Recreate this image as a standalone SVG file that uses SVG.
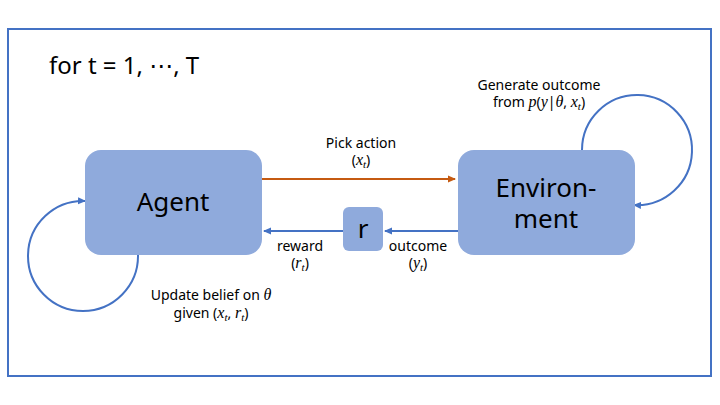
<svg xmlns="http://www.w3.org/2000/svg" width="720" height="405" viewBox="0 0 720 405">
<style>
.t{font-family:"Noto Sans","DejaVu Sans",sans-serif;fill:#000}
.m{font-family:"Liberation Serif","DejaVu Serif",serif;font-style:italic;font-size:16px}
.s{font-size:11px}
.box{fill:#8FAADC}
.b{stroke:#4472C4;stroke-width:2;fill:none}
.o{stroke:#C55A11;stroke-width:2;fill:none}
</style>
<defs>
<marker id="ab" markerWidth="8" markerHeight="8" refX="7" refY="4" orient="auto" markerUnits="userSpaceOnUse"><path d="M0,0.5 L8,4 L0,7.5 Z" fill="#4472C4"/></marker>
<marker id="ao" markerWidth="8" markerHeight="8" refX="7" refY="4" orient="auto" markerUnits="userSpaceOnUse"><path d="M0,0.5 L8,4 L0,7.5 Z" fill="#C55A11"/></marker>
</defs>
<rect x="8" y="29" width="703" height="347" fill="#fff" stroke="#4472C4" stroke-width="2"/>
<text class="t" x="49" y="74" font-size="24">for t = 1, ⋯, T</text>
<g id="connectors">
<line class="o" x1="262" y1="179" x2="455" y2="179" marker-end="url(#ao)"/>
<line class="b" x1="458" y1="231" x2="385" y2="231" marker-end="url(#ab)"/>
<line class="b" x1="343" y1="231" x2="264" y2="231" marker-end="url(#ab)"/>
<path class="b" d="M138,255 A55,55 0 1 1 85,201" marker-end="url(#ab)"/>
<path class="b" d="M582,150 A55,55 0 1 1 634,205" marker-end="url(#ab)"/>
<text class="t" x="361" y="148" font-size="14" text-anchor="middle">Pick action</text>
<text class="t" x="361" y="165" font-size="14" text-anchor="middle">(<tspan class="m">x</tspan><tspan class="m s" dy="3">t</tspan><tspan dy="-3">)</tspan></text>
<text class="t" x="300" y="251" font-size="14" text-anchor="middle">reward</text>
<text class="t" x="300" y="268" font-size="14" text-anchor="middle">(<tspan class="m">r</tspan><tspan class="m s" dy="3">t</tspan><tspan dy="-3">)</tspan></text>
<text class="t" x="418" y="251" font-size="14" text-anchor="middle">outcome</text>
<text class="t" x="418" y="268" font-size="14" text-anchor="middle">(<tspan class="m">y</tspan><tspan class="m s" dy="3">t</tspan><tspan dy="-3">)</tspan></text>
<text class="t" x="539" y="90" font-size="14" text-anchor="middle">Generate outcome</text>
<text class="t" x="539" y="107" font-size="14" text-anchor="middle">from <tspan class="m">p</tspan>(<tspan class="m">y</tspan>|<tspan class="m">θ</tspan>, <tspan class="m">x</tspan><tspan class="m s" dy="3">t</tspan><tspan dy="-3">)</tspan></text>
<text class="t" x="211" y="300" font-size="14" text-anchor="middle">Update belief on <tspan class="m">θ</tspan></text>
<text class="t" x="211" y="318" font-size="14" text-anchor="middle">given (<tspan class="m">x</tspan><tspan class="m s" dy="3">t</tspan><tspan dy="-3">, </tspan><tspan class="m">r</tspan><tspan class="m s" dy="3">t</tspan><tspan dy="-3">)</tspan></text>
</g>
<g id="agent">
<rect class="box" x="85" y="150" width="177" height="105" rx="16"/>
<text class="t" x="173" y="211" font-size="26" text-anchor="middle">Agent</text>
</g>
<g id="environment">
<rect class="box" x="458" y="150" width="177" height="105" rx="16"/>
<text class="t" x="546" y="197" font-size="26" text-anchor="middle">Environ-</text>
<text class="t" x="546" y="228" font-size="26" text-anchor="middle">ment</text>
</g>
<g id="r">
<rect class="box" x="343" y="207" width="40" height="44" rx="6"/>
<text class="t" x="363" y="238" font-size="26" text-anchor="middle">r</text>
</g>
</svg>
